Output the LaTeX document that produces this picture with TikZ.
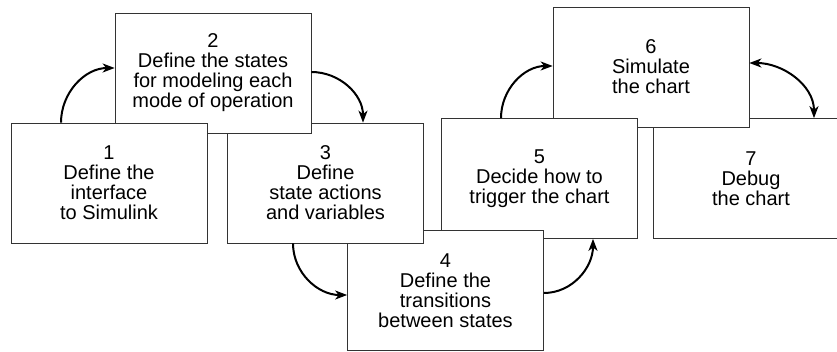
\documentclass[tikz,border=0pt]{standalone}
\usepackage{fontspec}
\setmainfont{Liberation Sans}
\usepackage{tikz}
\usetikzlibrary{arrows.meta}
\tikzset{>={Stealth[length=12pt,width=9pt,inset=3.5pt]}}
\tikzset{box/.style={draw=black!80, line width=0.7pt, fill=white, minimum width=196pt, minimum height=120pt, inner sep=0pt, align=center, font=\fontsize{20}{20}\selectfont}}
\tikzset{flow/.style={->, line width=2pt}}

\begin{document}
\begin{tikzpicture}[x=1pt,y=1pt]
  \useasboundingbox (0,0) rectangle (837,351);
  \node[box] (s7) at (751,172.5) {7\\Debug\\the chart};
  \node[box] (s6) at (651,284) {6\\Simulate\\the chart};
  \node[box] (s5) at (539.5,172.5) {5\\Decide how to\\trigger the chart};
  \node[box] (s4) at (445.5,60.5) {4\\Define the\\transitions\\between states};
  \node[box] (s3) at (325.5,168) {3\\Define\\state actions\\and variables};
  \node[box] (s2) at (213,278) {2\\Define the states\\for modeling each\\mode of operation};
  \node[box] (s1) at (109,168) {1\\Define the\\interface\\to Simulink};
  \draw[flow] ([xshift=-48pt]s1.north) to[out=90,in=180] ([yshift=5pt]s2.west);
  \draw[flow] ([yshift=1pt]s2.east) to[out=0,in=90] ([xshift=37.5pt]s3.north);
  \draw[flow] ([xshift=-32.5pt]s3.south) to[out=-90,in=180] ([yshift=-4.5pt]s4.west);
  \draw[flow] ([yshift=-2.5pt]s4.east) to[out=0,in=-90] ([xshift=53.5pt]s5.south);
  \draw[flow] ([xshift=-38.5pt]s5.north) to[out=90,in=180] ([yshift=1pt]s6.west);
  \draw[flow,<->] ([yshift=4pt]s6.east) to[out=0,in=90] ([xshift=63pt]s7.north);
\end{tikzpicture}
\end{document}
